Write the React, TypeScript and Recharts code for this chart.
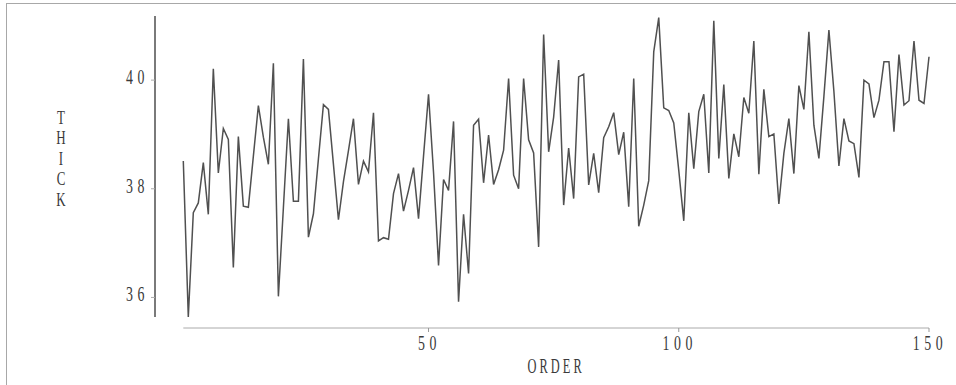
import React from 'react';
import { LineChart, Line, XAxis, YAxis } from 'recharts';

const ORDER = [
  1, 2, 3, 4, 5, 6, 7, 8, 9, 10, 11, 12, 13, 14, 15, 16, 17, 18, 19, 20,
  21, 22, 23, 24, 25, 26, 27, 28, 29, 30, 31, 32, 33, 34, 35, 36, 37, 38, 39, 40,
  41, 42, 43, 44, 45, 46, 47, 48, 49, 50, 51, 52, 53, 54, 55, 56, 57, 58, 59, 60,
  61, 62, 63, 64, 65, 66, 67, 68, 69, 70, 71, 72, 73, 74, 75, 76, 77, 78, 79, 80,
  81, 82, 83, 84, 85, 86, 87, 88, 89, 90, 91, 92, 93, 94, 95, 96, 97, 98, 99, 100,
  101, 102, 103, 104, 105, 106, 107, 108, 109, 110, 111, 112, 113, 114, 115, 116, 117, 118, 119, 120,
  121, 122, 123, 124, 125, 126, 127, 128, 129, 130, 131, 132, 133, 134, 135, 136, 137, 138, 139, 140,
  141, 142, 143, 144, 145, 146, 147, 148, 149, 150,
];

const THICK = [
  38.51, 35.64, 37.56, 37.74, 38.48, 37.53, 40.21, 38.29, 39.11, 38.91,
  36.55, 38.96, 37.68, 37.66, 38.6, 39.53, 38.95, 38.45, 40.31, 36.02,
  37.65, 39.29, 37.77, 37.77, 40.39, 37.11, 37.54, 38.55, 39.55, 39.46,
  38.45, 37.43, 38.13, 38.7, 39.29, 38.08, 38.51, 38.31, 39.4, 37.04,
  37.1, 37.07, 37.91, 38.28, 37.59, 37.97, 38.39, 37.45, 38.6, 39.74,
  38.3, 36.59, 38.17, 37.97, 39.24, 35.92, 37.53, 36.44, 39.17, 39.28,
  38.11, 38.99, 38.08, 38.35, 38.71, 40.03, 38.25, 38.0, 40.03, 38.9,
  38.66, 36.93, 40.84, 38.68, 39.32, 40.37, 37.7, 38.75, 37.82, 40.06,
  40.11, 38.07, 38.65, 37.93, 38.94, 39.14, 39.4, 38.63, 39.04, 37.67,
  40.03, 37.31, 37.7, 38.15, 40.52, 41.15, 39.49, 39.44, 39.21, 38.34,
  37.41, 39.4, 38.37, 39.42, 39.74, 38.29, 41.09, 38.56, 39.92, 38.19,
  39.01, 38.59, 39.68, 39.39, 40.72, 38.27, 39.83, 38.96, 39.01, 37.72,
  38.65, 39.29, 38.28, 39.9, 39.46, 40.89, 39.17, 38.56, 39.7, 40.92,
  39.79, 38.42, 39.29, 38.88, 38.83, 38.21, 40.0, 39.93, 39.31, 39.63,
  40.34, 40.34, 39.05, 40.47, 39.54, 39.62, 40.72, 39.63, 39.57, 40.43,
];

const X_TICKS = [50, 100, 150];
const Y_TICKS = [36, 38, 40];
const X_LABEL = 'ORDER';
const Y_LABEL = 'THICK';

const ROWS = ORDER.map((o, i) => ({ order: o, thick: THICK[i] }));

const FONT = '"Liberation Serif", "DejaVu Serif", serif';
const TEXT = '#3a3a3a';

const Y_SHIFT = 28.3; // y axis drawn left of the data area
const X_SHIFT = 11; // x axis drawn below the data area

const XTick = (props: any) => {
  const { x, y, payload } = props;
  return (
    <g>
      <line x1={x} x2={x} y1={y + X_SHIFT} y2={y + X_SHIFT + 4} stroke="#999" strokeWidth={1} />
      <text
        transform={`translate(${x + 1},${y + X_SHIFT + 22}) scale(0.66,1)`}
        textAnchor="middle"
        fontFamily={FONT}
        fontSize={21}
        letterSpacing={7}
        fill={TEXT}
      >
        {payload.value}
      </text>
    </g>
  );
};

const YTick = (props: any) => {
  const { x, y, payload } = props;
  const ax = x - Y_SHIFT;
  return (
    <g>
      <line x1={ax - 4} x2={ax} y1={y} y2={y} stroke="#aaa" strokeWidth={1} />
      <text
        transform={`translate(${ax - 6},${y + 4}) scale(0.66,1)`}
        textAnchor="end"
        fontFamily={FONT}
        fontSize={21}
        letterSpacing={7}
        fill={TEXT}
      >
        {payload.value}
      </text>
    </g>
  );
};

const XLabel = (props: any) => {
  const vb = props.viewBox || {};
  const cx = (vb.x || 0) + (vb.width || 0) / 2;
  const top = vb.y || 0;
  return (
    <text
      transform={`translate(${cx},${top + X_SHIFT + 45}) scale(0.62,1)`}
      textAnchor="middle"
      fontFamily={FONT}
      fontSize={20}
      letterSpacing={5}
      fill={TEXT}
    >
      {X_LABEL}
    </text>
  );
};

const YLabel = () => {
  const letters = Y_LABEL.split('');
  return (
    <g>
      {letters.map((ch, i) => (
        <text
          key={i}
          transform={`translate(61,${123.5 + i * 20.6}) scale(0.72,1)`}
          textAnchor="middle"
          fontFamily={FONT}
          fontSize={18}
          fill={TEXT}
        >
          {ch}
        </text>
      ))}
    </g>
  );
};

export default function App() {
  return (
    <div
      style={{
        position: 'absolute',
        left: 0,
        top: 0,
        width: 956,
        height: 385,
        overflow: 'hidden',
        background: '#fff',
      }}
    >
      <div
        style={{
          position: 'absolute',
          left: 6,
          top: 3,
          width: 1000,
          height: 500,
          borderLeft: '1px solid #a8a8a8',
          borderTop: '1px solid #a8a8a8',
        }}
      />
      <div style={{ position: 'absolute', left: 0, top: 0 }}>
        <LineChart
          width={956}
          height={385}
          data={ROWS}
          margin={{ top: 16, right: 27, bottom: 38, left: 0.3 }}
        >
          <XAxis
            dataKey="order"
            type="number"
            domain={[1, 150]}
            ticks={X_TICKS}
            interval={0}
            height={30}
            tickSize={0}
            tickMargin={0}
            tickLine={false}
            axisLine={{ stroke: '#aaaaaa', strokeWidth: 1, transform: `translate(0,${X_SHIFT})` }}
            tick={<XTick />}
            label={<XLabel />}
          />
          <YAxis
            type="number"
            domain={[35.64, 41.18]}
            ticks={Y_TICKS}
            interval={0}
            width={183}
            tickSize={0}
            tickMargin={0}
            tickLine={false}
            axisLine={{ stroke: '#7a7a7a', strokeWidth: 2, transform: `translate(-${Y_SHIFT},0)` }}
            tick={<YTick />}
            label={<YLabel />}
          />
          <Line
            dataKey="thick"
            type="linear"
            stroke="#505050"
            strokeWidth={1.5}
            dot={false}
            isAnimationActive={false}
          />
        </LineChart>
      </div>
    </div>
  );
}
